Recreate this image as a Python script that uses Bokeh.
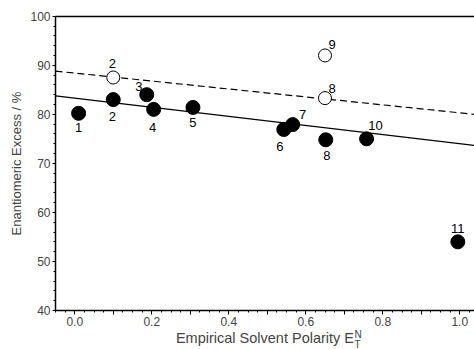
from bokeh.plotting import figure
from bokeh.models import LinearAxis, Label, ColumnDataSource, FixedTicker, Range1d, NumeralTickFormatter
from bokeh.core.properties import value
from bokeh.embed import file_html
from bokeh.resources import INLINE

# Filled points
filled_x = [0.01, 0.10, 0.187, 0.205, 0.307, 0.543, 0.566, 0.652, 0.758, 0.995]
filled_y = [80.2, 83.0, 84.0, 81.0, 81.4, 76.9, 77.9, 74.8, 75.0, 54.0]
filled_lab = ["1", "2", "3", "4", "5", "6", "7", "8", "10", "11"]
# Open points
open_x = [0.10, 0.65, 0.65]
open_y = [87.5, 92.0, 83.3]
open_lab = ["2", "9", "8"]
# Fit lines (intercept, slope)
solid_fit = (83.3, -9.3)
dashed_fit = (88.4, -8.1)
# axis extents
x_lo, x_hi = -0.05, 1.06
y_lo, y_hi = 40, 100
x_ticks = [0.0, 0.1, 0.2, 0.3, 0.4, 0.5, 0.6, 0.7, 0.8, 0.9, 1.0]
y_ticks = [40, 50, 60, 70, 80, 90, 100]

FONT = "Liberation Sans"
W, H = 474, 349
# layout geometry (pixels)
PX_X = 385.0      # px per x unit
PX_Y = 4.905      # px per y unit
AX_LEFT = 55      # y-axis position from canvas left
AX_TOP = 15.7     # y=100 position from canvas top

# label offsets (screen pixels, +y is down) - style
filled_dx = [0, -1, -8, -1, 0, -4, 10, 1, 9, 0]
filled_dy = [14, 17, -8, 18, 15, 17, -10, 16, -13, -13]
open_dx = [-1, 7, 7]
open_dy = [-14, -11, -10]

xr0 = x_lo - AX_LEFT / PX_X
yr1 = y_hi + AX_TOP / PX_Y
p = figure(width=W, height=H, output_backend="svg", toolbar_location=None,
           x_range=Range1d(xr0, xr0 + W / PX_X), y_range=Range1d(yr1 - H / PX_Y, yr1),
           min_border_left=0, min_border_right=0, min_border_top=0, min_border_bottom=0,
           x_axis_type=None, y_axis_type=None)
p.outline_line_color = None
p.grid.visible = False
p.background_fill_color = "white"

xs = [x_lo, x_hi]
p.line(xs, [solid_fit[0] + solid_fit[1] * x for x in xs], line_color="black", line_width=1.2)
p.line(xs, [dashed_fit[0] + dashed_fit[1] * x for x in xs], line_color="black", line_width=1.2,
       line_dash="7 4")

fs = ColumnDataSource(dict(x=filled_x, y=filled_y, t=filled_lab, dx=filled_dx, dy=filled_dy))
os_ = ColumnDataSource(dict(x=open_x, y=open_y, t=open_lab, dx=open_dx, dy=open_dy))

p.scatter("x", "y", source=fs, size=14, fill_color="black", line_color="black")
p.scatter("x", "y", source=os_, size=13, fill_color="white", line_color="black", line_width=1)

for src in (fs, os_):
    p.text("x", "y", text="t", source=src, x_offset="dx", y_offset="dy",
           text_align="center", text_baseline="middle", text_font=value(FONT),
           text_font_size="13px", text_color="black")

# x axis (fixed at y=40)
xa = LinearAxis(fixed_location=y_lo, bounds=(x_lo, x_hi))
xa.ticker = FixedTicker(ticks=x_ticks, minor_ticks=[i * 0.025 for i in range(-2, 43)])
xa.formatter = NumeralTickFormatter(format="0.0")
xa.major_label_overrides = {0.1: "", 0.3: "", 0.5: "", 0.7: "", 0.9: ""}
xa.axis_label = "Empirical Solvent Polarity E"
xa.axis_label_text_font = FONT
xa.axis_label_text_font_size = "14.5px"
xa.axis_label_text_font_style = "normal"
xa.axis_label_standoff = 1
xa.major_label_text_font = FONT
xa.major_label_text_font_size = "12px"
xa.major_label_standoff = 2
xa.major_tick_out = 4
xa.major_tick_in = 0
xa.minor_tick_out = 2
xa.minor_tick_in = 0
xa.axis_line_width = 1.5
p.add_layout(xa, "below")

# y axis (fixed at x=-0.05)
ya = LinearAxis(fixed_location=x_lo, bounds=(y_lo, y_hi))
ya.ticker = FixedTicker(ticks=y_ticks, minor_ticks=list(range(40, 101, 2)))
ya.axis_label = "Enantiomeric Excess / %"
ya.axis_label_text_font = FONT
ya.axis_label_text_font_size = "13px"
ya.axis_label_text_font_style = "normal"
ya.axis_label_standoff = 3
ya.major_label_text_font = FONT
ya.major_label_text_font_size = "12px"
ya.major_label_standoff = 2
ya.major_tick_out = 3
ya.major_tick_in = 0
ya.minor_tick_out = 2
ya.minor_tick_in = 0
ya.axis_line_width = 1.5
p.add_layout(ya, "left")

# top border line (fixed at y=100)
top = LinearAxis(fixed_location=y_hi, bounds=(x_lo, x_hi), major_tick_line_color=None,
                 minor_tick_line_color=None, major_label_text_font_size="0px",
                 axis_line_width=1.5)
top.ticker = FixedTicker(ticks=[])
p.add_layout(top, "above")

# superscript / subscript on E (screen units; frame spans the whole canvas)
p.add_layout(Label(x=354, y=H - 334, x_units="screen", y_units="screen", text="N",
                   text_font=FONT, text_font_size="10px", text_align="left",
                   text_baseline="middle"))
p.add_layout(Label(x=354, y=H - 344, x_units="screen", y_units="screen", text="T",
                   text_font=FONT, text_font_size="10px", text_align="left",
                   text_baseline="middle"))

open("out.html", "w").write(file_html(p, INLINE))
